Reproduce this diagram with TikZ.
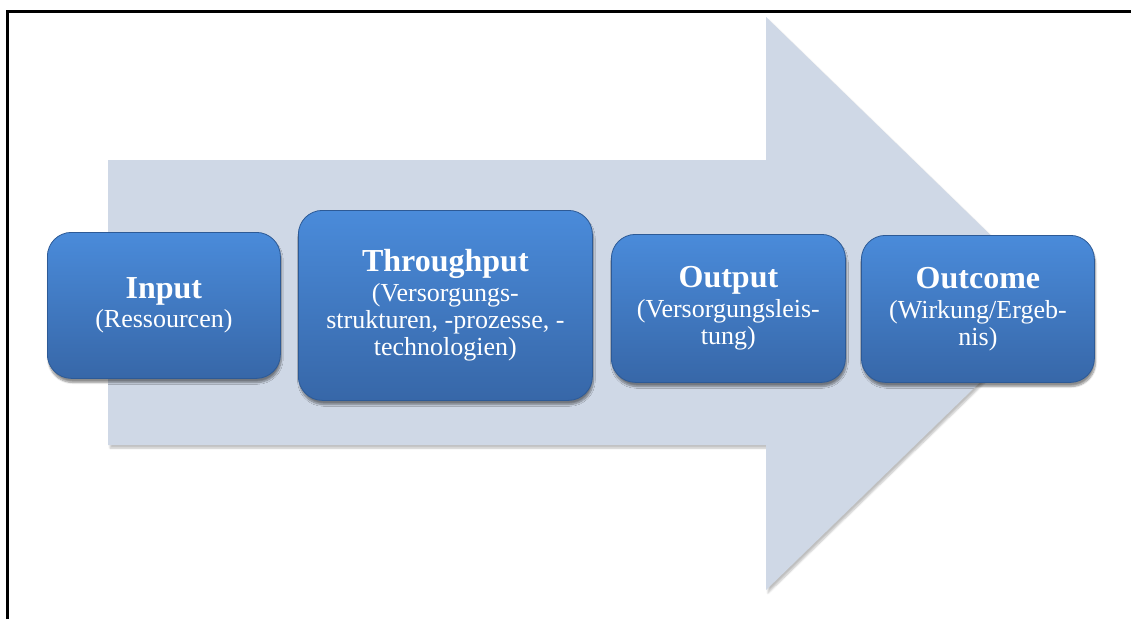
\documentclass[tikz,border=0pt]{standalone}
\usepackage{fontspec}
\setmainfont{Liberation Serif}
\usetikzlibrary{shadows.blur}

\definecolor{arrowfill}{HTML}{CFD8E6}
\definecolor{boxtop}{HTML}{4A8BDA}
\definecolor{boxbottom}{HTML}{3767A8}
\definecolor{boxedge}{HTML}{2D5A96}

\newcommand{\titlesize}{\fontsize{32}{27}\selectfont\bfseries}
\newcommand{\subsize}{\fontsize{26}{27}\selectfont}

\tikzset{
  stagebox/.style={
    rounded corners=24pt, draw=boxedge, line width=0.8pt,
    top color=boxtop, bottom color=boxbottom,
    blur shadow={shadow xshift=1pt, shadow yshift=-4pt, shadow blur steps=8, shadow opacity=45},
    text=white, align=center, inner sep=0pt, anchor=north west, font=\subsize
  },
}

\begin{document}
\begin{tikzpicture}[x=1pt,y=-1pt]
  \useasboundingbox (0,0) rectangle (1131,619);

  % background arrow
  \fill[arrowfill, blur shadow={shadow xshift=2pt, shadow yshift=-3pt, shadow blur steps=6, shadow opacity=25}]
    (108,160) -- (766,160) -- (766,17) -- (1061,303.5) -- (766,590) -- (766,445) -- (108,445) -- cycle;

  % stage boxes
  \node[stagebox, minimum width=233pt, minimum height=146pt] (input) at (47,232)
    {{\titlesize Input}\\[2pt](Ressourcen)};
  \node[stagebox, minimum width=294pt, minimum height=190pt] (through) at (298,210)
    {{\titlesize Throughput}\\[3pt](Versorgungs-\\strukturen, -prozesse, -\\technologien)};
  \node[stagebox, minimum width=234pt, minimum height=148pt] (output) at (611,234)
    {{\titlesize Output}\\[3pt](Versorgungsleis-\\tung)};
  \node[stagebox, minimum width=233pt, minimum height=147pt] (outcome) at (861,235)
    {{\titlesize Outcome}\\[3pt](Wirkung/Ergeb-\\nis)};

  % frame
  \draw[line width=3pt] (7.5,619) -- (7.5,11.5) -- (1131,11.5);
\end{tikzpicture}
\end{document}
